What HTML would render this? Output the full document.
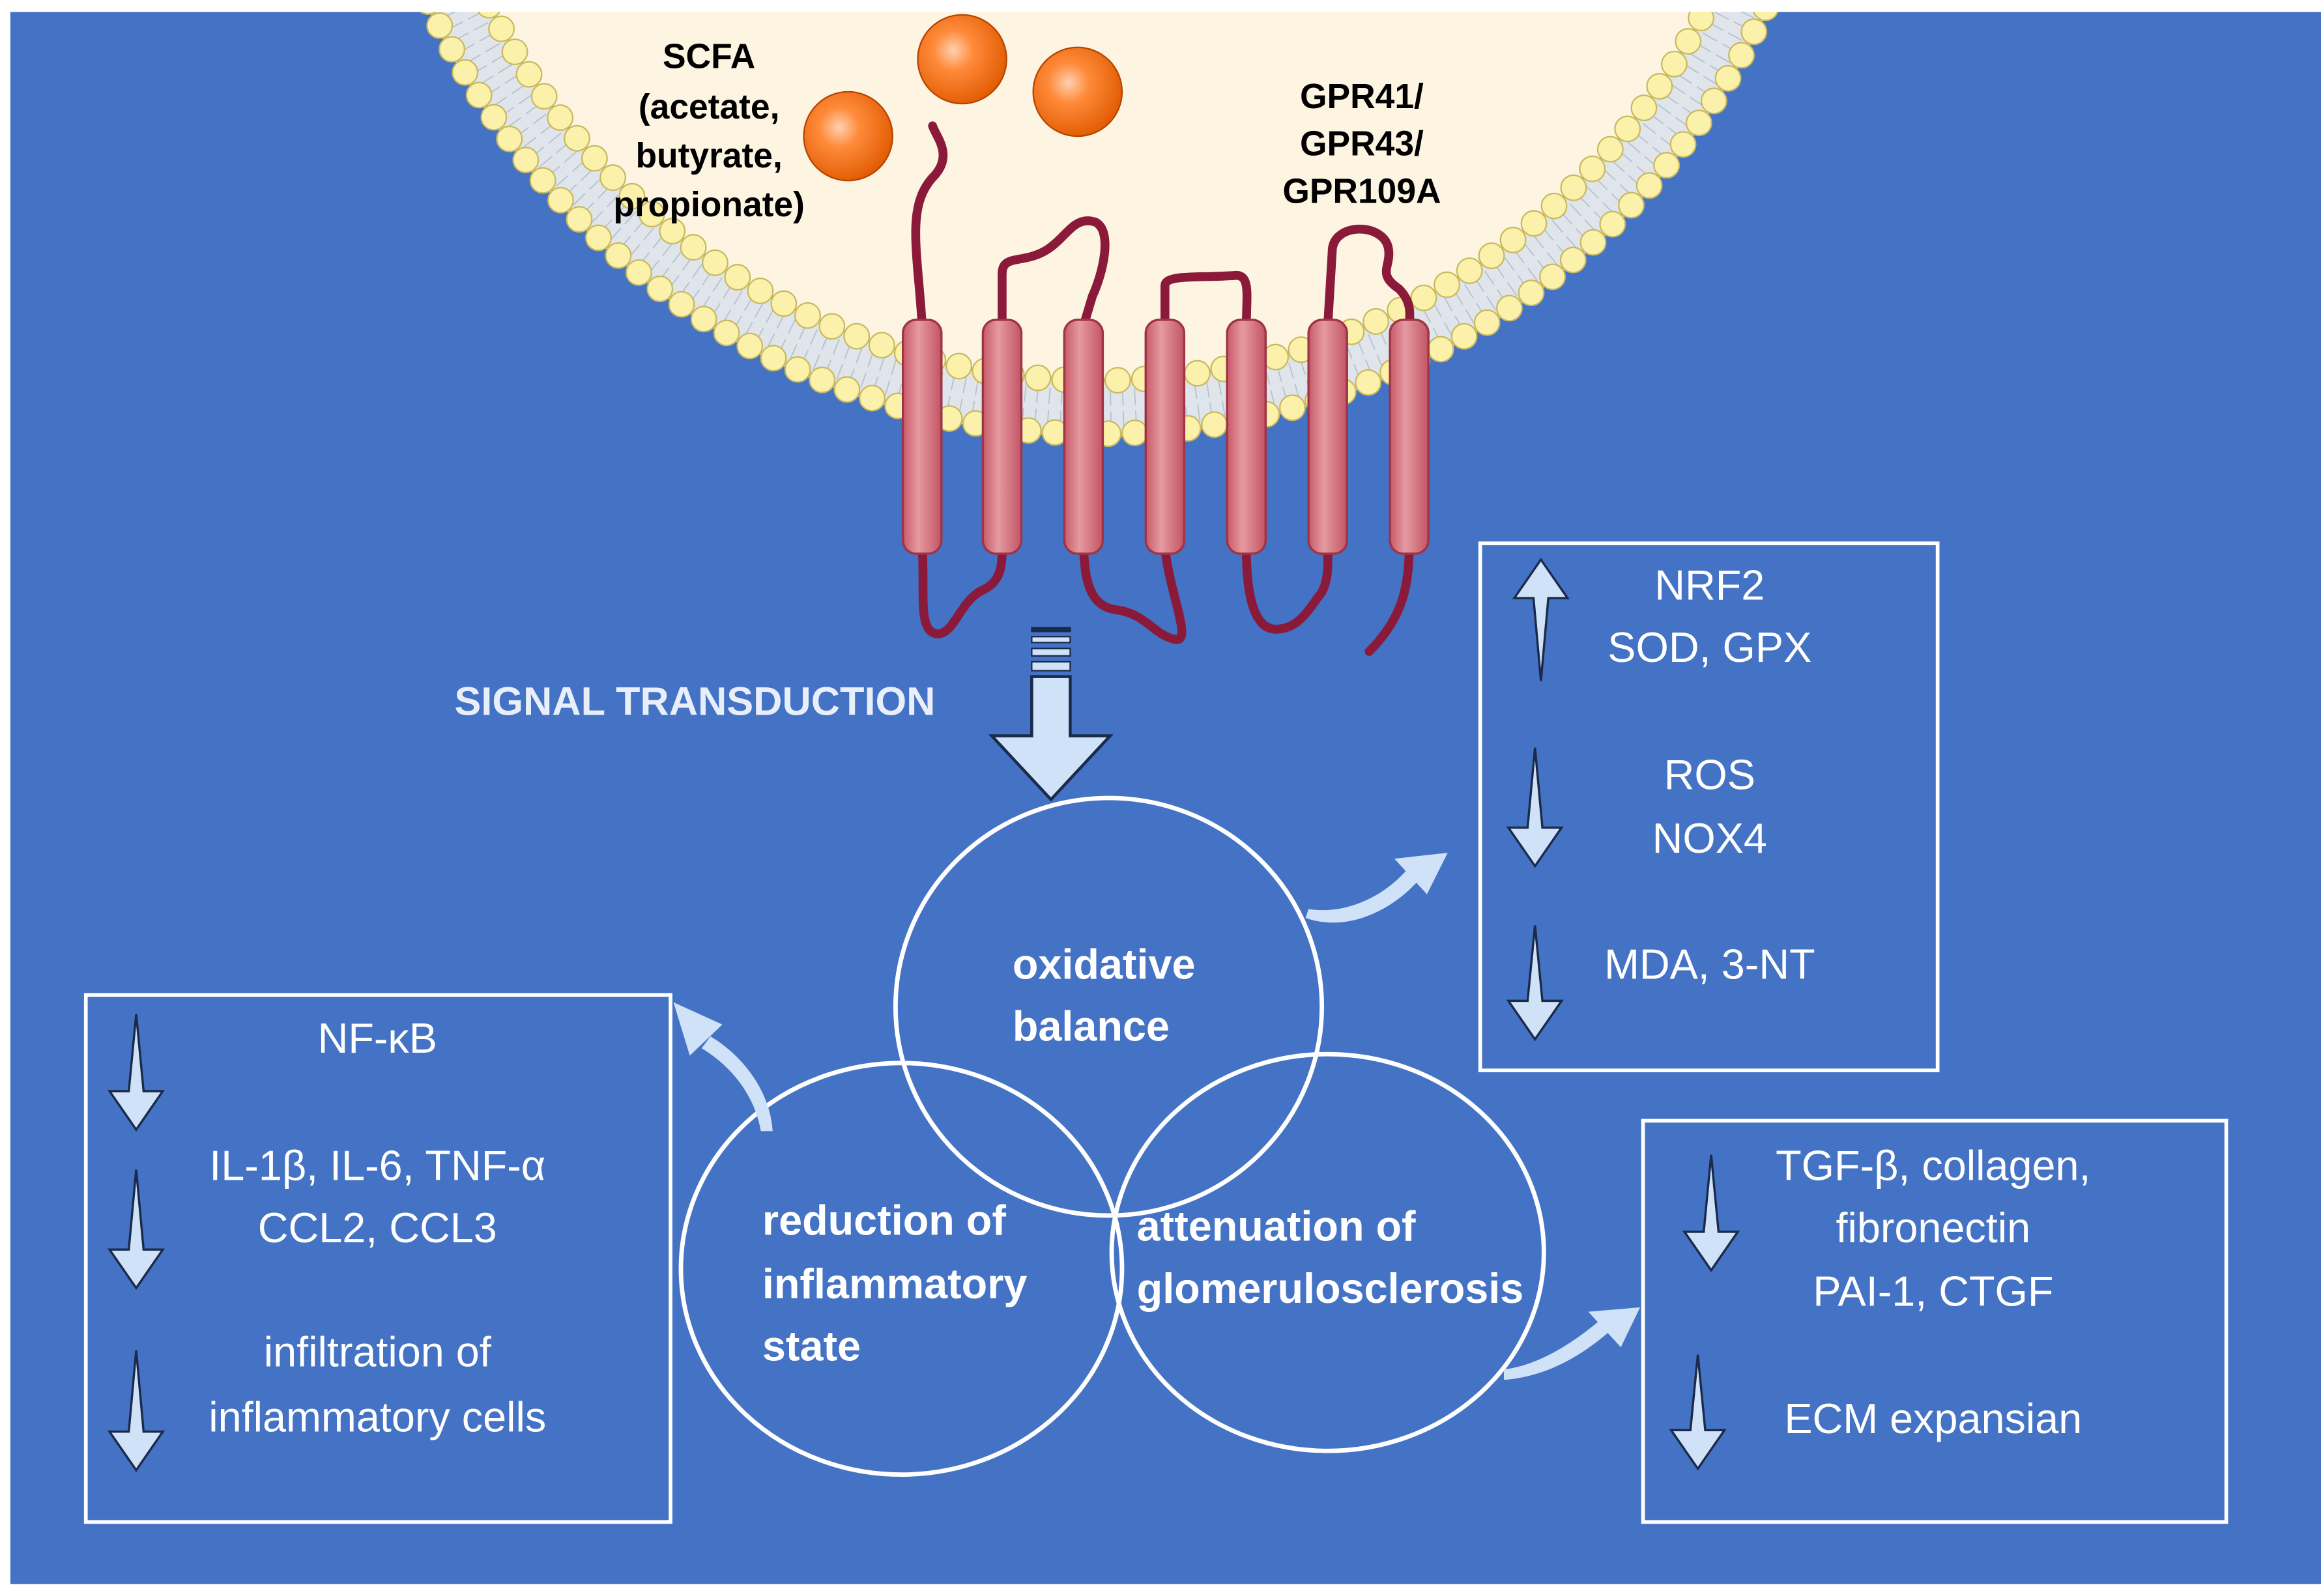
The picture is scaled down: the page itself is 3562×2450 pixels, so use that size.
<!DOCTYPE html>
<html><head><meta charset="utf-8"><style>
html,body{margin:0;padding:0;background:#fff;}
svg{display:block;}
text{font-family:"Liberation Sans",sans-serif;}
</style></head><body>
<svg id="s" width="3562" height="2450" viewBox="0 0 1568 1078" preserveAspectRatio="none" xmlns="http://www.w3.org/2000/svg">
<defs>
<radialGradient id="ball" cx="0.4" cy="0.4" r="0.65">
<stop offset="0" stop-color="#ffd0b0"/><stop offset="0.35" stop-color="#ff8a3a"/><stop offset="1" stop-color="#e05a00"/>
</radialGradient>
<linearGradient id="hel" x1="0" x2="1">
<stop offset="0" stop-color="#c75a68"/><stop offset="0.4" stop-color="#e59aa2"/><stop offset="1" stop-color="#c25464"/>
</linearGradient>
</defs>
<rect x="0" y="0" width="1568" height="1078" fill="#fff"/>
<rect x="7" y="8" width="1561" height="1062" fill="#4472c4"/>
<g id="mem">
<circle cx="742" cy="-204" r="480" fill="none" stroke="#dfe5eb" stroke-width="38"/>
<circle cx="742" cy="-204" r="460" fill="#fdf5e2"/>
</g>
<g id="dots"></g>
<rect x="0" y="0" width="1568" height="8" fill="#fff"/>

<circle cx="573" cy="92" r="30" fill="url(#ball)" stroke="#b54400" stroke-width="1"/>
<circle cx="650" cy="40" r="30" fill="url(#ball)" stroke="#b54400" stroke-width="1"/>
<circle cx="728" cy="62" r="30" fill="url(#ball)" stroke="#b54400" stroke-width="1"/>

<g font-weight="bold" font-size="23.5" fill="#000" text-anchor="middle">
<text x="479" y="46">SCFA</text>
<text x="479" y="80">(acetate,</text>
<text x="479" y="113">butyrate,</text>
<text x="479" y="146">propionate)</text>
<text x="920" y="73">GPR41/</text>
<text x="920" y="105">GPR43/</text>
<text x="920" y="137">GPR109A</text>
</g>

<g fill="none" stroke="#8b1a3a" stroke-width="6" stroke-linecap="round" stroke-linejoin="round">
<path d="M623 220 C620 170 612 140 630 120 C645 105 632 92 630 85"/>
<path d="M677 220 L677 185 C677 172 690 178 705 170 C720 162 725 145 740 150 C752 156 745 185 738 200 L732 220"/>
<path d="M787 220 L787 193 C787 185 810 188 835 186 C845 186 842 200 842 220"/>
<path d="M897 220 L900 170 C900 150 935 150 938 168 C940 180 930 185 945 195 C955 205 952 215 952 220"/>
<path d="M623 370 C625 400 620 425 632 428 C645 430 648 405 665 398 C677 392 677 380 677 370"/>
<path d="M732 370 C733 390 735 410 755 412 C775 415 780 430 795 432 C805 432 790 400 787 370"/>
<path d="M842 370 C842 395 845 425 862 425 C878 425 885 410 893 400 C898 390 897 380 897 370"/>
<path d="M952 370 C952 400 945 420 925 440"/>
</g>
<g id="helices" fill="url(#hel)" stroke="#9e3446" stroke-width="1.5"></g>

<text x="307" y="483" font-size="27" font-weight="bold" fill="#e8eefa">SIGNAL TRANSDUCTION</text>
<g fill="#cfe2f7" stroke="#1a2a4a" stroke-width="1">
<rect x="697" y="424" width="26" height="2.5" fill="#1a2a4a"/>
<rect x="697" y="430" width="26" height="4"/>
<rect x="697" y="438" width="26" height="5"/>
<rect x="697" y="447" width="26" height="6"/>
<polygon points="697,457 723,457 723,497 750,497 710,540 670,497 697,497" stroke-width="2"/>
</g>

<g fill="none" stroke="#fff" stroke-width="3">
<ellipse cx="749" cy="680" rx="144" ry="141"/>
<ellipse cx="609" cy="857" rx="149" ry="139"/>
<ellipse cx="897" cy="846" rx="146" ry="134"/>
</g>
<g font-weight="bold" font-size="28.5" fill="#fff">
<text x="684" y="661">oxidative</text>
<text x="684" y="703">balance</text>
<text x="515" y="834">reduction of</text>
<text x="515" y="877">inflammatory</text>
<text x="515" y="919">state</text>
<text x="768" y="838">attenuation of</text>
<text x="768" y="880">glomerulosclerosis</text>
</g>

<g fill="#cfe2f7">
<path d="M882 620 C910 630 940 615 958 595 L950 588 C935 605 910 618 884 614 Z"/>
<polygon points="978,576 942,580 964,604"/>
<path d="M522 764 C520 735 500 712 480 700 L474 708 C494 720 510 740 514 764 Z"/>
<polygon points="455,677 466,713 488,692"/>
<path d="M1016 932 C1045 930 1070 915 1090 897 L1083 890 C1063 907 1040 922 1016 925 Z"/>
<polygon points="1108,883 1073,886 1095,910"/>
</g>

<g fill="none" stroke="#fff" stroke-width="2.5">
<rect x="1000" y="367" width="309" height="356"/>
<rect x="58" y="672" width="395" height="356"/>
<rect x="1110" y="757" width="394" height="271"/>
</g>
<g font-size="28.5" fill="#fff" text-anchor="middle">
<text x="1155" y="405">NRF2</text>
<text x="1155" y="447">SOD, GPX</text>
<text x="1155" y="533">ROS</text>
<text x="1155" y="576">NOX4</text>
<text x="1155" y="661">MDA, 3-NT</text>
<text x="255" y="711">NF-κB</text>
<text x="255" y="797">IL-1β, IL-6, TNF-α</text>
<text x="255" y="839">CCL2, CCL3</text>
<text x="255" y="923">infiltration of</text>
<text x="255" y="967">inflammatory cells</text>
<text x="1306" y="797">TGF-β, collagen,</text>
<text x="1306" y="839">fibronectin</text>
<text x="1306" y="882">PAI-1, CTGF</text>
<text x="1306" y="968">ECM expansian</text>
</g>
<g id="thin" fill="#cfe2f7" stroke="#1a2a4a" stroke-width="1.5"></g>
</svg>
<script>
var NS="http://www.w3.org/2000/svg";
function el(p,t,a){var e=document.createElementNS(NS,t);for(var k in a)e.setAttribute(k,a[k]);document.getElementById(p).appendChild(e);return e;}
var cx=742,cy=-204;
for(var a=0;a<=180;a+=1.0){var r=a*Math.PI/180,c=Math.cos(r),s=Math.sin(r);
 var y1=cy+466*s; if(y1<0)continue;
 el("dots","line",{x1:cx+467*c,y1:cy+467*s,x2:cx+478*c,y2:cy+478*s,stroke:"#b7c1cc","stroke-width":0.8});
 el("dots","line",{x1:cx+482*c,y1:cy+482*s,x2:cx+493*c,y2:cy+493*s,stroke:"#b7c1cc","stroke-width":0.8});}
[[497,0],[461,1]].forEach(function(p){var R=p[0];var step=18/R;
 for(var t=p[1]*step/2;t<=Math.PI;t+=step){var x=cx+R*Math.cos(t),y=cy+R*Math.sin(t);if(y<-10)continue;
  el("dots","circle",{cx:x,cy:y,r:8.5,fill:"#fbf1ab",stroke:"#c9b95e","stroke-width":1});}});
[623,677,732,787,842,897,952].forEach(function(x){el("helices","rect",{x:x-13,y:216,width:26,height:158,rx:9,ry:9});});
function arr(x,y0,y1,up){var h=26,w=18,sw=5;var p;
 if(!up)p=[[x,y0],[x+sw,y1-h],[x+w,y1-h],[x,y1],[x-w,y1-h],[x-sw,y1-h]];
 else p=[[x,y1],[x+sw,y0+h],[x+w,y0+h],[x,y0],[x-w,y0+h],[x-sw,y0+h]];
 el("thin","polygon",{points:p.map(function(q){return q.join(",")}).join(" ")});}
arr(1041,378,460,true);arr(1037,505,585);arr(1037,625,702);
arr(92,685,763);arr(92,790,870);arr(92,912,993);
arr(1156,780,858);arr(1147,915,992);
</script>
</body></html>
